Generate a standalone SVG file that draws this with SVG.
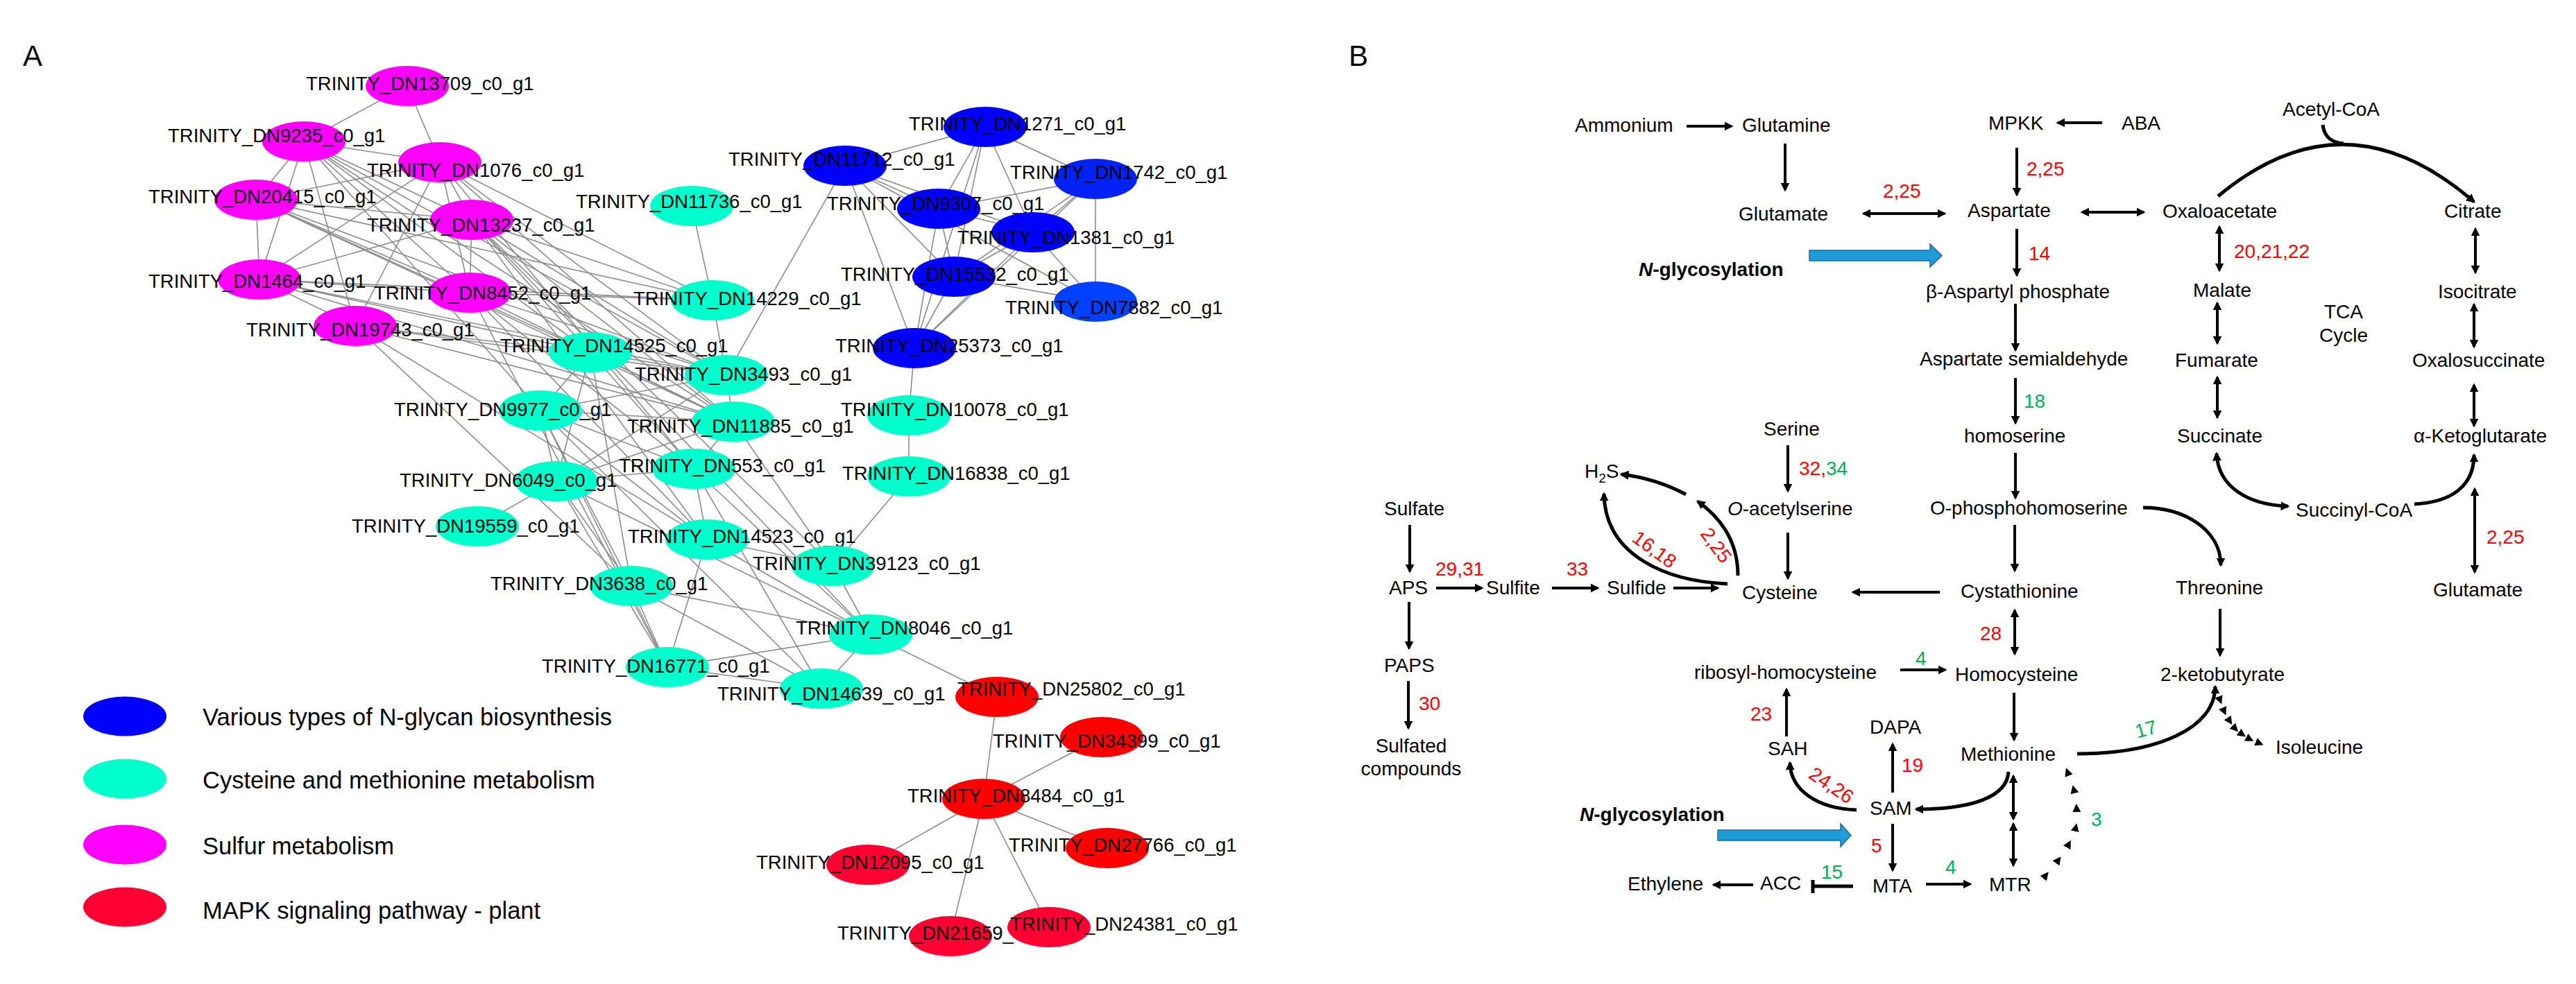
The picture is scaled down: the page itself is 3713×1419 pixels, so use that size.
<svg xmlns="http://www.w3.org/2000/svg" width="3713" height="1419" viewBox="0 0 3713 1419">
<style>
text{font-family:"Liberation Sans",Arial,sans-serif;fill:#000}
.nl{font-size:27.5px}
.lg{font-size:34.5px}
.pl{font-size:42px}
.t{font-size:28px}
.r{font-size:28px;fill:#FF0000}
.g{font-size:28px;fill:#00B050}
.e line{stroke:#8c8c8c;stroke-width:1.6}
.blue{fill:#0000FF}.cyan{fill:#00FFCC}.mag{fill:#FF00FF}.red{fill:#FF0000}.crim{fill:#FF0033}
.a{fill:none;stroke:#000;stroke-width:4;marker-end:url(#ah)}
.d{fill:none;stroke:#000;stroke-width:4;marker-start:url(#ah);marker-end:url(#ah)}
.c{fill:none;stroke:#000;stroke-width:5;marker-end:url(#ah)}
.cd{fill:none;stroke:#000;stroke-width:5;marker-start:url(#ah);marker-end:url(#ah)}
.dots{fill:none;stroke:none;marker-start:url(#tri);marker-mid:url(#tri);marker-end:url(#tri)}
.barrow{fill:#1F9BD7;stroke:#1A6C9C;stroke-width:1.5}
</style>
<defs>
<marker id="ah" viewBox="0 0 10 10" refX="8" refY="5" markerWidth="13" markerHeight="13" markerUnits="userSpaceOnUse" orient="auto-start-reverse"><path d="M0,0 L10,5 L0,10 z" fill="#000"/></marker>
<marker id="tri" viewBox="0 0 10 10" refX="5" refY="5" markerWidth="12" markerHeight="12" markerUnits="userSpaceOnUse" orient="auto"><path d="M0,0 L10,5 L0,10 z" fill="#000"/></marker>
</defs>
<rect width="3713" height="1419" fill="#fff"/>
<text class="pl" x="33" y="95">A</text>
<text class="pl" x="1944" y="95">B</text>

<g id="edges" class="e">
<line x1="587" y1="124" x2="438" y2="204"/><line x1="587" y1="124" x2="634" y2="234"/>
<line x1="438" y1="204" x2="634" y2="234"/><line x1="438" y1="204" x2="369" y2="288"/>
<line x1="438" y1="204" x2="374" y2="403"/><line x1="438" y1="204" x2="512" y2="470"/>
<line x1="438" y1="204" x2="680" y2="317"/><line x1="438" y1="204" x2="677" y2="422"/>
<line x1="634" y1="234" x2="369" y2="288"/><line x1="634" y1="234" x2="374" y2="403"/>
<line x1="634" y1="234" x2="512" y2="470"/><line x1="634" y1="234" x2="680" y2="317"/>
<line x1="634" y1="234" x2="677" y2="422"/><line x1="369" y1="288" x2="680" y2="317"/>
<line x1="369" y1="288" x2="374" y2="403"/><line x1="369" y1="288" x2="677" y2="422"/>
<line x1="680" y1="317" x2="374" y2="403"/><line x1="680" y1="317" x2="677" y2="422"/>
<line x1="374" y1="403" x2="677" y2="422"/><line x1="374" y1="403" x2="512" y2="470"/>
<line x1="438" y1="204" x2="851" y2="508"/><line x1="438" y1="204" x2="1057" y2="608"/>
<line x1="438" y1="204" x2="1047" y2="541"/><line x1="438" y1="204" x2="779" y2="592"/>
<line x1="634" y1="234" x2="1027" y2="433"/><line x1="634" y1="234" x2="1047" y2="541"/>
<line x1="634" y1="234" x2="1057" y2="608"/><line x1="634" y1="234" x2="1000" y2="676"/>
<line x1="369" y1="288" x2="851" y2="508"/><line x1="369" y1="288" x2="1057" y2="608"/>
<line x1="369" y1="288" x2="1047" y2="541"/><line x1="369" y1="288" x2="1027" y2="433"/>
<line x1="680" y1="317" x2="1027" y2="433"/><line x1="680" y1="317" x2="1047" y2="541"/>
<line x1="680" y1="317" x2="1057" y2="608"/><line x1="680" y1="317" x2="1000" y2="676"/>
<line x1="680" y1="317" x2="1019" y2="778"/><line x1="680" y1="317" x2="1201" y2="816"/>
<line x1="680" y1="317" x2="1255" y2="915"/>
<line x1="374" y1="403" x2="1047" y2="541"/><line x1="374" y1="403" x2="1057" y2="608"/>
<line x1="374" y1="403" x2="851" y2="508"/><line x1="374" y1="403" x2="1027" y2="433"/>
<line x1="677" y1="422" x2="1027" y2="433"/><line x1="677" y1="422" x2="1047" y2="541"/>
<line x1="677" y1="422" x2="1057" y2="608"/><line x1="677" y1="422" x2="1000" y2="676"/>
<line x1="677" y1="422" x2="1019" y2="778"/><line x1="677" y1="422" x2="962" y2="962"/>
<line x1="512" y1="470" x2="851" y2="508"/><line x1="512" y1="470" x2="1047" y2="541"/>
<line x1="512" y1="470" x2="1057" y2="608"/><line x1="512" y1="470" x2="910" y2="845"/>
<line x1="512" y1="470" x2="1019" y2="778"/>
<line x1="997" y1="297" x2="1027" y2="433"/><line x1="1027" y1="433" x2="1047" y2="541"/>
<line x1="851" y1="508" x2="1047" y2="541"/><line x1="851" y1="508" x2="779" y2="592"/>
<line x1="851" y1="508" x2="1057" y2="608"/><line x1="851" y1="508" x2="802" y2="694"/>
<line x1="851" y1="508" x2="910" y2="845"/><line x1="1047" y1="541" x2="779" y2="592"/>
<line x1="1047" y1="541" x2="1057" y2="608"/><line x1="1047" y1="541" x2="802" y2="694"/>
<line x1="779" y1="592" x2="1057" y2="608"/><line x1="779" y1="592" x2="1000" y2="676"/>
<line x1="779" y1="592" x2="802" y2="694"/><line x1="779" y1="592" x2="1019" y2="778"/>
<line x1="779" y1="592" x2="910" y2="845"/><line x1="779" y1="592" x2="962" y2="962"/>
<line x1="779" y1="592" x2="1184" y2="993"/><line x1="1057" y1="608" x2="1000" y2="676"/>
<line x1="1057" y1="608" x2="802" y2="694"/><line x1="1057" y1="608" x2="1201" y2="816"/>
<line x1="1000" y1="676" x2="802" y2="694"/><line x1="1000" y1="676" x2="1019" y2="778"/>
<line x1="1000" y1="676" x2="1255" y2="915"/><line x1="1000" y1="676" x2="1184" y2="993"/>
<line x1="802" y1="694" x2="688" y2="759"/><line x1="802" y1="694" x2="910" y2="845"/>
<line x1="802" y1="694" x2="962" y2="962"/><line x1="802" y1="694" x2="1255" y2="915"/>
<line x1="1019" y1="778" x2="1201" y2="816"/><line x1="1019" y1="778" x2="1255" y2="915"/>
<line x1="1019" y1="778" x2="962" y2="962"/><line x1="1201" y1="816" x2="1255" y2="915"/>
<line x1="1201" y1="816" x2="1310" y2="687"/><line x1="910" y1="845" x2="1255" y2="915"/>
<line x1="910" y1="845" x2="962" y2="962"/><line x1="910" y1="845" x2="1184" y2="993"/>
<line x1="1255" y1="915" x2="962" y2="962"/><line x1="1255" y1="915" x2="1184" y2="993"/>
<line x1="962" y1="962" x2="1184" y2="993"/><line x1="1310" y1="599" x2="1310" y2="687"/>
<line x1="1255" y1="915" x2="1437" y2="1005"/><line x1="1047" y1="541" x2="1218" y2="239"/>
<line x1="1420" y1="183" x2="1218" y2="239"/><line x1="1420" y1="183" x2="1353" y2="301"/>
<line x1="1420" y1="183" x2="1489" y2="335"/><line x1="1420" y1="183" x2="1579" y2="258"/>
<line x1="1420" y1="183" x2="1375" y2="399"/><line x1="1420" y1="183" x2="1318" y2="502"/>
<line x1="1218" y1="239" x2="1353" y2="301"/><line x1="1218" y1="239" x2="1489" y2="335"/>
<line x1="1218" y1="239" x2="1375" y2="399"/><line x1="1218" y1="239" x2="1579" y2="435"/>
<line x1="1218" y1="239" x2="1318" y2="502"/><line x1="1353" y1="301" x2="1579" y2="258"/>
<line x1="1353" y1="301" x2="1489" y2="335"/><line x1="1353" y1="301" x2="1375" y2="399"/>
<line x1="1353" y1="301" x2="1318" y2="502"/><line x1="1579" y1="258" x2="1489" y2="335"/>
<line x1="1579" y1="258" x2="1375" y2="399"/><line x1="1579" y1="258" x2="1579" y2="435"/>
<line x1="1579" y1="258" x2="1318" y2="502"/><line x1="1489" y1="335" x2="1375" y2="399"/>
<line x1="1489" y1="335" x2="1579" y2="435"/><line x1="1489" y1="335" x2="1318" y2="502"/>
<line x1="1375" y1="399" x2="1579" y2="435"/><line x1="1375" y1="399" x2="1318" y2="502"/>
<line x1="1318" y1="502" x2="1310" y2="599"/>
<line x1="1437" y1="1005" x2="1418" y2="1152"/><line x1="1418" y1="1152" x2="1588" y2="1063"/>
<line x1="1418" y1="1152" x2="1596" y2="1223"/><line x1="1418" y1="1152" x2="1251" y2="1247"/>
<line x1="1418" y1="1152" x2="1370" y2="1350"/><line x1="1418" y1="1152" x2="1512" y2="1337"/>
</g>

<g id="n-DN13709"><ellipse class="mag" cx="587" cy="124" rx="60" ry="29"/><text class="nl" x="441" y="130">TRINITY_DN13709_c0_g1</text></g>
<g id="n-DN9235"><ellipse class="mag" cx="438" cy="204" rx="60" ry="29"/><text class="nl" x="242" y="205">TRINITY_DN9235_c0_g1</text></g>
<g id="n-DN1076"><ellipse class="mag" cx="634" cy="234" rx="60" ry="29"/><text class="nl" x="529" y="255">TRINITY_DN1076_c0_g1</text></g>
<g id="n-DN20415"><ellipse class="mag" cx="369" cy="288" rx="60" ry="29"/><text class="nl" x="214" y="293">TRINITY_DN20415_c0_g1</text></g>
<g id="n-DN13237"><ellipse class="mag" cx="680" cy="317" rx="60" ry="29"/><text class="nl" x="529" y="334">TRINITY_DN13237_c0_g1</text></g>
<g id="n-DN1464"><ellipse class="mag" cx="374" cy="403" rx="60" ry="29"/><text class="nl" x="214" y="415">TRINITY_DN1464_c0_g1</text></g>
<g id="n-DN8452"><ellipse class="mag" cx="677" cy="422" rx="60" ry="29"/><text class="nl" x="539" y="432">TRINITY_DN8452_c0_g1</text></g>
<g id="n-DN19743"><ellipse class="mag" cx="512" cy="470" rx="60" ry="29"/><text class="nl" x="355" y="485">TRINITY_DN19743_c0_g1</text></g>
<g id="n-DN11736"><ellipse class="cyan" cx="997" cy="297" rx="60" ry="29"/><text class="nl" x="830" y="300">TRINITY_DN11736_c0_g1</text></g>
<g id="n-DN14229"><ellipse class="cyan" cx="1027" cy="433" rx="60" ry="29"/><text class="nl" x="913" y="440">TRINITY_DN14229_c0_g1</text></g>
<g id="n-DN14525"><ellipse class="cyan" cx="851" cy="508" rx="60" ry="29"/><text class="nl" x="721" y="508">TRINITY_DN14525_c0_g1</text></g>
<g id="n-DN3493"><ellipse class="cyan" cx="1047" cy="541" rx="60" ry="29"/><text class="nl" x="915" y="549">TRINITY_DN3493_c0_g1</text></g>
<g id="n-DN9977"><ellipse class="cyan" cx="779" cy="592" rx="60" ry="29"/><text class="nl" x="568" y="600">TRINITY_DN9977_c0_g1</text></g>
<g id="n-DN11885"><ellipse class="cyan" cx="1057" cy="608" rx="60" ry="29"/><text class="nl" x="904" y="624">TRINITY_DN11885_c0_g1</text></g>
<g id="n-DN553"><ellipse class="cyan" cx="1000" cy="676" rx="60" ry="29"/><text class="nl" x="892" y="681">TRINITY_DN553_c0_g1</text></g>
<g id="n-DN6049"><ellipse class="cyan" cx="802" cy="694" rx="60" ry="29"/><text class="nl" x="576" y="702">TRINITY_DN6049_c0_g1</text></g>
<g id="n-DN19559"><ellipse class="cyan" cx="688" cy="759" rx="60" ry="29"/><text class="nl" x="507" y="768">TRINITY_DN19559_c0_g1</text></g>
<g id="n-DN14523"><ellipse class="cyan" cx="1019" cy="778" rx="60" ry="29"/><text class="nl" x="905" y="783">TRINITY_DN14523_c0_g1</text></g>
<g id="n-DN39123"><ellipse class="cyan" cx="1201" cy="816" rx="60" ry="29"/><text class="nl" x="1085" y="822">TRINITY_DN39123_c0_g1</text></g>
<g id="n-DN3638"><ellipse class="cyan" cx="910" cy="845" rx="60" ry="29"/><text class="nl" x="707" y="851">TRINITY_DN3638_c0_g1</text></g>
<g id="n-DN8046"><ellipse class="cyan" cx="1255" cy="915" rx="60" ry="29"/><text class="nl" x="1147" y="915">TRINITY_DN8046_c0_g1</text></g>
<g id="n-DN16771"><ellipse class="cyan" cx="962" cy="962" rx="60" ry="29"/><text class="nl" x="781" y="970">TRINITY_DN16771_c0_g1</text></g>
<g id="n-DN14639"><ellipse class="cyan" cx="1184" cy="993" rx="60" ry="29"/><text class="nl" x="1034" y="1010">TRINITY_DN14639_c0_g1</text></g>
<g id="n-DN10078"><ellipse class="cyan" cx="1310" cy="599" rx="60" ry="29"/><text class="nl" x="1212" y="600">TRINITY_DN10078_c0_g1</text></g>
<g id="n-DN16838"><ellipse class="cyan" cx="1310" cy="687" rx="60" ry="29"/><text class="nl" x="1214" y="692">TRINITY_DN16838_c0_g1</text></g>
<g id="n-DN1271"><ellipse class="blue" cx="1420" cy="183" rx="60" ry="29"/><text class="nl" x="1310" y="188">TRINITY_DN1271_c0_g1</text></g>
<g id="n-DN11712"><ellipse class="blue" cx="1218" cy="239" rx="60" ry="29"/><text class="nl" x="1050" y="239">TRINITY_DN11712_c0_g1</text></g>
<g id="n-DN9307"><ellipse class="blue" cx="1353" cy="301" rx="60" ry="29"/><text class="nl" x="1192" y="303">TRINITY_DN9307_c0_g1</text></g>
<g id="n-DN1742"><ellipse cx="1579" cy="258" rx="60" ry="29" fill="#0022F5"/><text class="nl" x="1456" y="258">TRINITY_DN1742_c0_g1</text></g>
<g id="n-DN1381"><ellipse class="blue" cx="1489" cy="335" rx="60" ry="29"/><text class="nl" x="1380" y="352">TRINITY_DN1381_c0_g1</text></g>
<g id="n-DN15532"><ellipse class="blue" cx="1375" cy="399" rx="60" ry="29"/><text class="nl" x="1212" y="405">TRINITY_DN15532_c0_g1</text></g>
<g id="n-DN7882"><ellipse cx="1579" cy="435" rx="60" ry="29" fill="#0040FF"/><text class="nl" x="1449" y="453">TRINITY_DN7882_c0_g1</text></g>
<g id="n-DN25373"><ellipse class="blue" cx="1318" cy="502" rx="60" ry="29"/><text class="nl" x="1204" y="508">TRINITY_DN25373_c0_g1</text></g>
<g id="n-DN25802"><ellipse class="red" cx="1437" cy="1005" rx="60" ry="29"/><text class="nl" x="1380" y="1003">TRINITY_DN25802_c0_g1</text></g>
<g id="n-DN34399"><ellipse class="red" cx="1588" cy="1063" rx="60" ry="29"/><text class="nl" x="1431" y="1078">TRINITY_DN34399_c0_g1</text></g>
<g id="n-DN8484"><ellipse class="red" cx="1418" cy="1152" rx="60" ry="29"/><text class="nl" x="1308" y="1157">TRINITY_DN8484_c0_g1</text></g>
<g id="n-DN27766"><ellipse class="red" cx="1596" cy="1223" rx="60" ry="29"/><text class="nl" x="1454" y="1228">TRINITY_DN27766_c0_g1</text></g>
<g id="n-DN12095"><ellipse class="crim" cx="1251" cy="1247" rx="60" ry="29"/><text class="nl" x="1090" y="1253">TRINITY_DN12095_c0_g1</text></g>
<g id="n-DN21659"><ellipse class="crim" cx="1370" cy="1350" rx="60" ry="29"/><text class="nl" x="1207" y="1355">TRINITY_DN21659_c0_g1</text></g>
<g id="n-DN24381"><ellipse class="crim" cx="1512" cy="1337" rx="60" ry="29"/><text class="nl" x="1456" y="1342">TRINITY_DN24381_c0_g1</text></g>

<g id="legend">
<ellipse class="blue" cx="180" cy="1033" rx="60" ry="28.5"/><text class="lg" x="292" y="1046">Various types of N-glycan biosynthesis</text>
<ellipse class="cyan" cx="180" cy="1123" rx="60" ry="28.5"/><text class="lg" x="292" y="1137">Cysteine and methionine metabolism</text>
<ellipse class="mag" cx="180" cy="1218" rx="60" ry="28.5"/><text class="lg" x="292" y="1232">Sulfur metabolism</text>
<ellipse class="crim" cx="180" cy="1308" rx="60" ry="28.5"/><text class="lg" x="292" y="1325">MAPK signaling pathway - plant</text>
</g>

<g id="pathway-arrows">
<path class="a" d="M2431,182 H2496"/>
<path class="a" d="M2573,207 V274"/>
<path class="d" d="M2686,308 H2803"/>
<path class="a" d="M3030,177 H2966"/>
<path class="a" d="M2907,213 V281"/>
<path class="d" d="M3001,306 H3090"/>
<path class="a" d="M2907,330 V397"/>
<path class="a" d="M2905,438 V505"/>
<path class="a" d="M2905,545 V610"/>
<path class="a" d="M2905,653 V718"/>
<path class="a" d="M2904,757 V823"/>
<path class="a" d="M2796,854 H2671"/>
<path class="d" d="M2904,880 V943"/>
<path class="a" d="M2903,999 V1067"/>
<path class="d" d="M3199,327 V390"/>
<path class="d" d="M3196,437 V495"/>
<path class="d" d="M3196,544 V602"/>
<path class="d" d="M3568,330 V393"/>
<path class="d" d="M3566,439 V500"/>
<path class="d" d="M3566,555 V614"/>
<path class="d" d="M3567,705 V825"/>
<path class="a" d="M3200,878 V945"/>
<path class="a" d="M2577,642 V708"/>
<path class="a" d="M2577,768 V834"/>
<path class="a" d="M2032,757 V824"/>
<path class="a" d="M2070,848 H2136"/>
<path class="a" d="M2237,848 H2303"/>
<path class="a" d="M2412,848 H2476"/>
<path class="a" d="M2031,868 V935"/>
<path class="a" d="M2030,982 V1050"/>
<path class="a" d="M2739,966 H2804"/>
<path class="a" d="M2575,1062 V994"/>
<path class="a" d="M2728,1143 V1073"/>
<path class="a" d="M2728,1188 V1255"/>
<path class="a" d="M2776,1275 H2840"/>
<path class="d" d="M2902,1119 V1181"/>
<path class="d" d="M2902,1188 V1248"/>
<path d="M2671,1278 H2613 M2613,1269 V1288" fill="none" stroke="#000" stroke-width="5"/>
<path class="a" d="M2527,1276 H2470"/>
<path class="c" d="M3197,283 Q3380,130 3566,291"/>
<path d="M3348,180 C3350,198 3362,206 3378,207" fill="none" stroke="#000" stroke-width="5"/>
<path class="cd" d="M3195,654 C3197,702 3240,728 3298,730"/>
<path class="c" d="M3480,727 C3535,724 3566,700 3566,656"/>
<path class="c" d="M3089,732 C3150,732 3201,765 3201,815"/>
<path class="c" d="M2994,1087 C3110,1087 3193,1050 3193,990"/>
<path class="c" d="M2895,1113 C2893,1150 2840,1167 2762,1167"/>
<path class="c" d="M2676,1168 C2620,1166 2581,1140 2580,1100"/>
<path class="c" d="M2490,842 C2400,838 2313,800 2312,712"/>
<path class="c" d="M2505,830 C2505,785 2485,750 2447,723"/>
<path class="c" d="M2430,713 C2400,697 2370,688 2337,684"/>
<polyline class="dots" points="2949,1262 2967,1240 2982,1217 2992,1193 2993,1165 2989,1138 2980,1113"/>
<polyline class="dots" points="3200,1010 3206,1026 3214,1040 3222,1051 3232,1059 3243,1066 3257,1072"/>
<polygon class="barrow" points="2608,361 2782,361 2782,352 2799,368.5 2782,385 2782,376 2608,376"/>
<polygon class="barrow" points="2476,1197 2653,1197 2653,1188 2668,1204.5 2653,1221 2653,1212 2476,1212"/>
</g>

<g id="pathway-labels">
<text class="t" x="2270" y="190">Ammonium</text>
<text class="t" x="2511" y="190">Glutamine</text>
<text class="t" x="2866" y="187">MPKK</text>
<text class="t" x="3058" y="187">ABA</text>
<text class="t" x="3290" y="167">Acetyl-CoA</text>
<text class="t" x="2506" y="318">Glutamate</text>
<text class="t" x="2836" y="313">Aspartate</text>
<text class="t" x="3117" y="314">Oxaloacetate</text>
<text class="t" x="3523" y="314">Citrate</text>
<text class="t" x="2362" y="398" font-weight="bold"><tspan font-style="italic">N</tspan>-glycosylation</text>
<text class="t" x="2776" y="430">β-Aspartyl phosphate</text>
<text class="t" x="3161" y="428">Malate</text>
<text class="t" x="3514" y="430">Isocitrate</text>
<text class="t" x="3378" y="459" text-anchor="middle">TCA</text>
<text class="t" x="3378" y="493" text-anchor="middle">Cycle</text>
<text class="t" x="2767" y="527">Aspartate semialdehyde</text>
<text class="t" x="3135" y="529">Fumarate</text>
<text class="t" x="3477" y="529">Oxalosuccinate</text>
<text class="t" x="2542" y="628">Serine</text>
<text class="t" x="2831" y="638">homoserine</text>
<text class="t" x="3138" y="638">Succinate</text>
<text class="t" x="3479" y="638">α-Ketoglutarate</text>
<text class="t" x="2284" y="689">H<tspan font-size="19" dy="7">2</tspan><tspan dy="-7">S</tspan></text>
<text class="t" x="1995" y="743">Sulfate</text>
<text class="t" x="2490" y="743"><tspan font-style="italic">O</tspan>-acetylserine</text>
<text class="t" x="2782" y="742">O-phosphohomoserine</text>
<text class="t" x="3309" y="745">Succinyl-CoA</text>
<text class="t" x="2002" y="857">APS</text>
<text class="t" x="2142" y="857">Sulfite</text>
<text class="t" x="2316" y="857">Sulfide</text>
<text class="t" x="2511" y="864">Cysteine</text>
<text class="t" x="2826" y="862">Cystathionine</text>
<text class="t" x="3136" y="857">Threonine</text>
<text class="t" x="3507" y="860">Glutamate</text>
<text class="t" x="1995" y="969">PAPS</text>
<text class="t" x="2442" y="979">ribosyl-homocysteine</text>
<text class="t" x="2818" y="982">Homocysteine</text>
<text class="t" x="3114" y="982">2-ketobutyrate</text>
<text class="t" x="2695" y="1058">DAPA</text>
<text class="t" x="2034" y="1085" text-anchor="middle">Sulfated</text>
<text class="t" x="2034" y="1118" text-anchor="middle">compounds</text>
<text class="t" x="2548" y="1089">SAH</text>
<text class="t" x="2826" y="1097">Methionine</text>
<text class="t" x="3280" y="1087">Isoleucine</text>
<text class="t" x="2695" y="1175">SAM</text>
<text class="t" x="2277" y="1184" font-weight="bold"><tspan font-style="italic">N</tspan>-glycosylation</text>
<text class="t" x="2537" y="1283">ACC</text>
<text class="t" x="2699" y="1287">MTA</text>
<text class="t" x="2867" y="1285">MTR</text>
<text class="t" x="2346" y="1284">Ethylene</text>
</g>

<g id="enzyme-numbers">
<text class="r" x="2714" y="285">2,25</text>
<text class="r" x="2921" y="253">2,25</text>
<text class="r" x="2924" y="375">14</text>
<text class="g" x="2917" y="588">18</text>
<text class="r" x="3220" y="372">20,21,22</text>
<text class="r" x="3584" y="784">2,25</text>
<text class="r" x="2593" y="685">32,<tspan fill="#00B050">34</tspan></text>
<text class="r" x="2069" y="830">29,31</text>
<text class="r" x="2258" y="830">33</text>
<text class="r" x="2045" y="1024">30</text>
<text class="r" x="2854" y="923">28</text>
<text class="g" x="2761" y="959">4</text>
<text class="r" x="2523" y="1039">23</text>
<text class="r" x="2741" y="1113">19</text>
<text class="r" x="2697" y="1229">5</text>
<text class="g" x="2804" y="1260">4</text>
<text class="g" x="2625" y="1267">15</text>
<text class="g" x="3014" y="1191">3</text>
<text class="g" transform="translate(3093,1051) rotate(-15)" x="0" y="10" text-anchor="middle">17</text>
<text class="r" transform="translate(2385,792) rotate(36)" x="0" y="10" text-anchor="middle">16,18</text>
<text class="r" transform="translate(2474,786) rotate(54)" x="0" y="10" text-anchor="middle">2,25</text>
<text class="r" transform="translate(2640,1132) rotate(34)" x="0" y="10" text-anchor="middle">24,26</text>
</g>
</svg>
